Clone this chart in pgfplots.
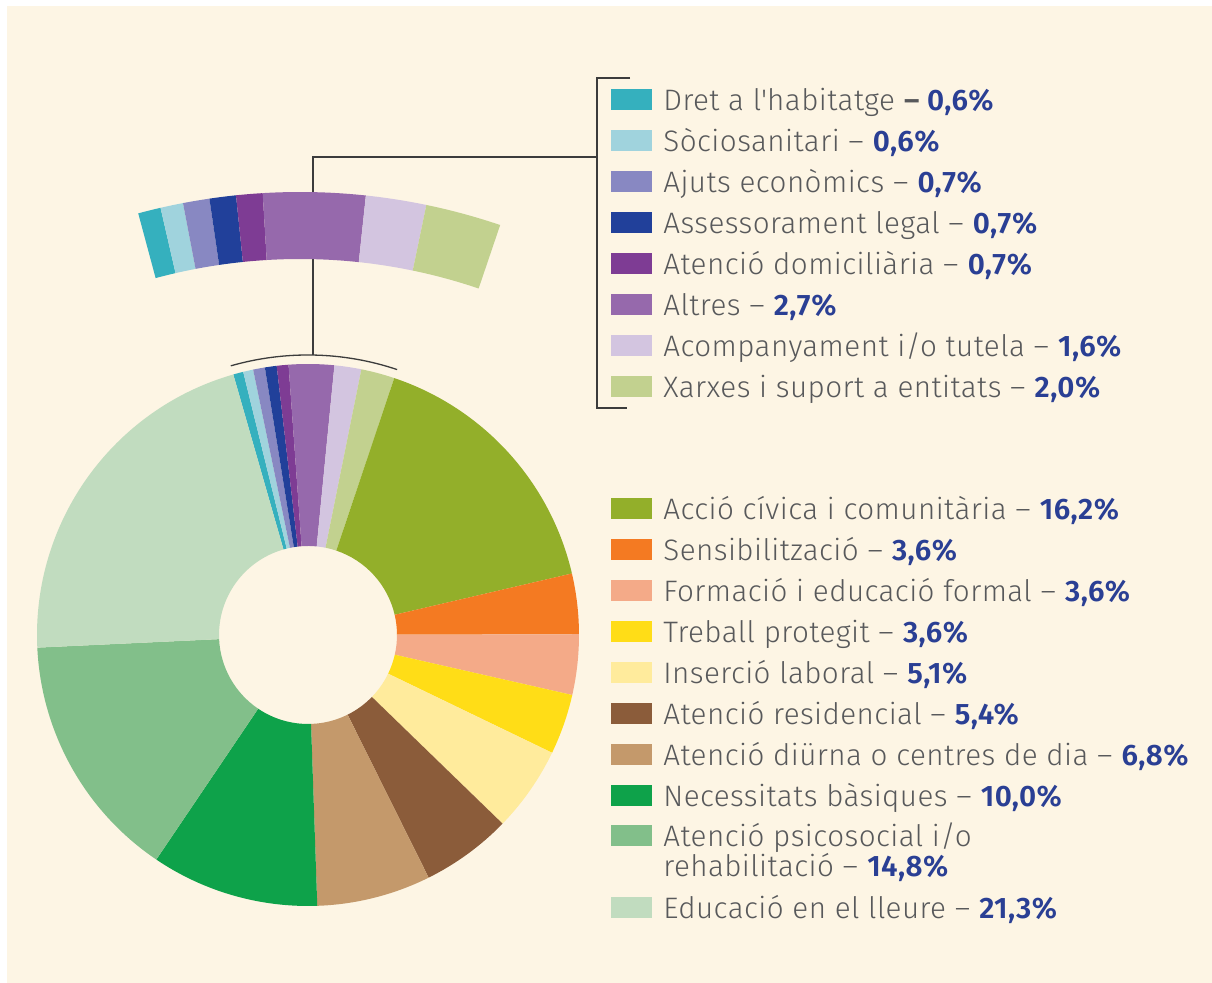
\documentclass[border=0pt]{standalone}
\usepackage{pgfplots}
\pgfplotsset{compat=1.18}
\usepackage{pgfplotstable}
\usepackage{fontspec}
\setmainfont{Fira Sans}[UprightFont={* Light}, BoldFont={* SemiBold}, LetterSpace=1.5]

\definecolor{bg}{HTML}{FDF5E4}
\definecolor{txt}{HTML}{58595B}
\definecolor{pct}{HTML}{2A3F94}
\definecolor{lin}{HTML}{3C3C3C}
\definecolor{c1}{HTML}{35B0BE}
\definecolor{c2}{HTML}{A0D3DD}
\definecolor{c3}{HTML}{8888C2}
\definecolor{c4}{HTML}{21409A}
\definecolor{c5}{HTML}{7E3C94}
\definecolor{c6}{HTML}{9669AC}
\definecolor{c7}{HTML}{D3C5E0}
\definecolor{c8}{HTML}{C2D18F}
\definecolor{m1}{HTML}{93AF2A}
\definecolor{m2}{HTML}{F47A22}
\definecolor{m3}{HTML}{F4AA88}
\definecolor{m4}{HTML}{FFDD17}
\definecolor{m5}{HTML}{FFEB9C}
\definecolor{m6}{HTML}{8B5C3A}
\definecolor{m7}{HTML}{C4996B}
\definecolor{m8}{HTML}{0EA24A}
\definecolor{m9}{HTML}{82BF8A}
\definecolor{m10}{HTML}{C1DCBF}

% small categories (exploded band)
\pgfplotstableread{
value color
0.6 c1
0.6 c2
0.7 c3
0.7 c4
0.7 c5
2.7 c6
1.6 c7
2.0 c8
}\smalltbl
% main categories
\pgfplotstableread{
value color
16.2 m1
3.6 m2
3.6 m3
3.6 m4
5.1 m5
5.4 m6
6.8 m7
10.0 m8
14.8 m9
21.3 m10
}\maintbl

\def\unit{0.5pt}
% #1 table, #2 start angle, #3 degrees per percent, #4 cx, #5 cy, #6 r inner, #7 r outer
\newcommand\drawring[7]{%
  \pgfplotstablegetrowsof{#1}%
  \pgfmathtruncatemacro\nrows{\pgfplotsretval-1}%
  \xdef\curang{#2}%
  \foreach \i in {0,...,\nrows}{%
    \pgfplotstablegetelem{\i}{value}\of{#1}\let\val\pgfplotsretval
    \pgfplotstablegetelem{\i}{color}\of{#1}\let\col\pgfplotsretval
    \pgfmathsetmacro\aA{\curang}%
    \pgfmathsetmacro\aB{\curang-#3*\val}%
    \pgfmathsetmacro\xA{#4+#6*cos(\aA)}%
    \pgfmathsetmacro\yA{#5+#6*sin(\aA)}%
    \pgfmathsetmacro\xB{#4+#7*cos(\aB)}%
    \pgfmathsetmacro\yB{#5+#7*sin(\aB)}%
    \fill[fill=\col] (axis cs:\xA,\yA) arc[start angle=\aA, end angle=\aB, radius=#6*\unit]
      -- (axis cs:\xB,\yB) arc[start angle=\aB, end angle=\aA, radius=#7*\unit] -- cycle;
    \xdef\curang{\aB}%
  }%
}

\newcommand\legfont{\fontsize{14.8}{17}\selectfont}
\newcommand\legrow[3]{% y center, color, text
  \fill[#2] (axis cs:611,#1-10.5) rectangle (axis cs:652,#1+10.5);
  \node[anchor=base west, inner sep=0pt, text=txt, font=\legfont] at (axis cs:663,#1-10.5) {#3};
}
\newcommand\p[1]{\textbf{\textcolor{pct}{#1}}}

\begin{document}
\begin{tikzpicture}
\begin{axis}[hide axis, scale only axis, width=606pt, height=491.5pt,
  xmin=0, xmax=1212, ymin=0, ymax=983, clip=false]
\addplot[draw=none] coordinates {(0,0)};
% background
\fill[white] (axis cs:0,0) rectangle (axis cs:1212,983);
\fill[bg] (axis cs:7,0) rectangle (axis cs:1212,977);
% connector lines
\draw[lin, line width=0.65pt] (axis cs:313,628) -- (axis cs:313,826) -- (axis cs:597,826);
\draw[lin, line width=0.65pt] (axis cs:630,905) -- (axis cs:597,905) -- (axis cs:597,575) -- (axis cs:627,575);
\pgfplotsextra{%
  \pgfmathsetmacro\axA{308+280*cos(106)}%
  \pgfmathsetmacro\ayA{348+280*sin(106)}%
  \draw[lin, line width=0.65pt] (axis cs:\axA,\ayA) arc[start angle=106, end angle=71.44, radius=280*\unit];
  % exploded band
  \drawring{\smalltbl}{105.05}{3.52}{300}{168}{556}{623}
  % donut
  \drawring{\smalltbl}{106}{3.6}{308}{348}{89}{271}
  \drawring{\maintbl}{71.44}{3.6}{308}{348}{89}{271}
}
% legend, group 1
\legrow{883}{c1}{Dret a l\textquotesingle habitatge \textbf{– \textcolor{pct}{0,6\%}}}
\legrow{842}{c2}{Sòciosanitari – \p{0,6\%}}
\legrow{801}{c3}{Ajuts econòmics – \p{0,7\%}}
\legrow{760}{c4}{Assessorament legal – \p{0,7\%}}
\legrow{719}{c5}{Atenció domiciliària – \p{0,7\%}}
\legrow{678}{c6}{Altres – \p{2,7\%}}
\legrow{637}{c7}{Acompanyament i/o tutela – \p{1,6\%}}
\legrow{596}{c8}{Xarxes i suport a entitats – \p{2,0\%}}
% legend, group 2
\legrow{474}{m1}{Acció cívica i comunitària – \p{16,2\%}}
\legrow{433}{m2}{Sensibilització – \p{3,6\%}}
\legrow{392}{m3}{Formació i educació formal – \p{3,6\%}}
\legrow{351}{m4}{Treball protegit – \p{3,6\%}}
\legrow{310}{m5}{Inserció laboral – \p{5,1\%}}
\legrow{269}{m6}{Atenció residencial – \p{5,4\%}}
\legrow{228}{m7}{Atenció diürna o centres de dia – \p{6,8\%}}
\legrow{187}{m8}{Necessitats bàsiques – \p{10,0\%}}
\legrow{147}{m9}{Atenció psicosocial i/o}
\node[anchor=base west, inner sep=0pt, text=txt, font=\legfont] at (axis cs:663,106.5) {rehabilitació – \p{14,8\%}};
\legrow{75}{m10}{Educació en el lleure – \p{21,3\%}}
\end{axis}
\end{tikzpicture}
\end{document}
